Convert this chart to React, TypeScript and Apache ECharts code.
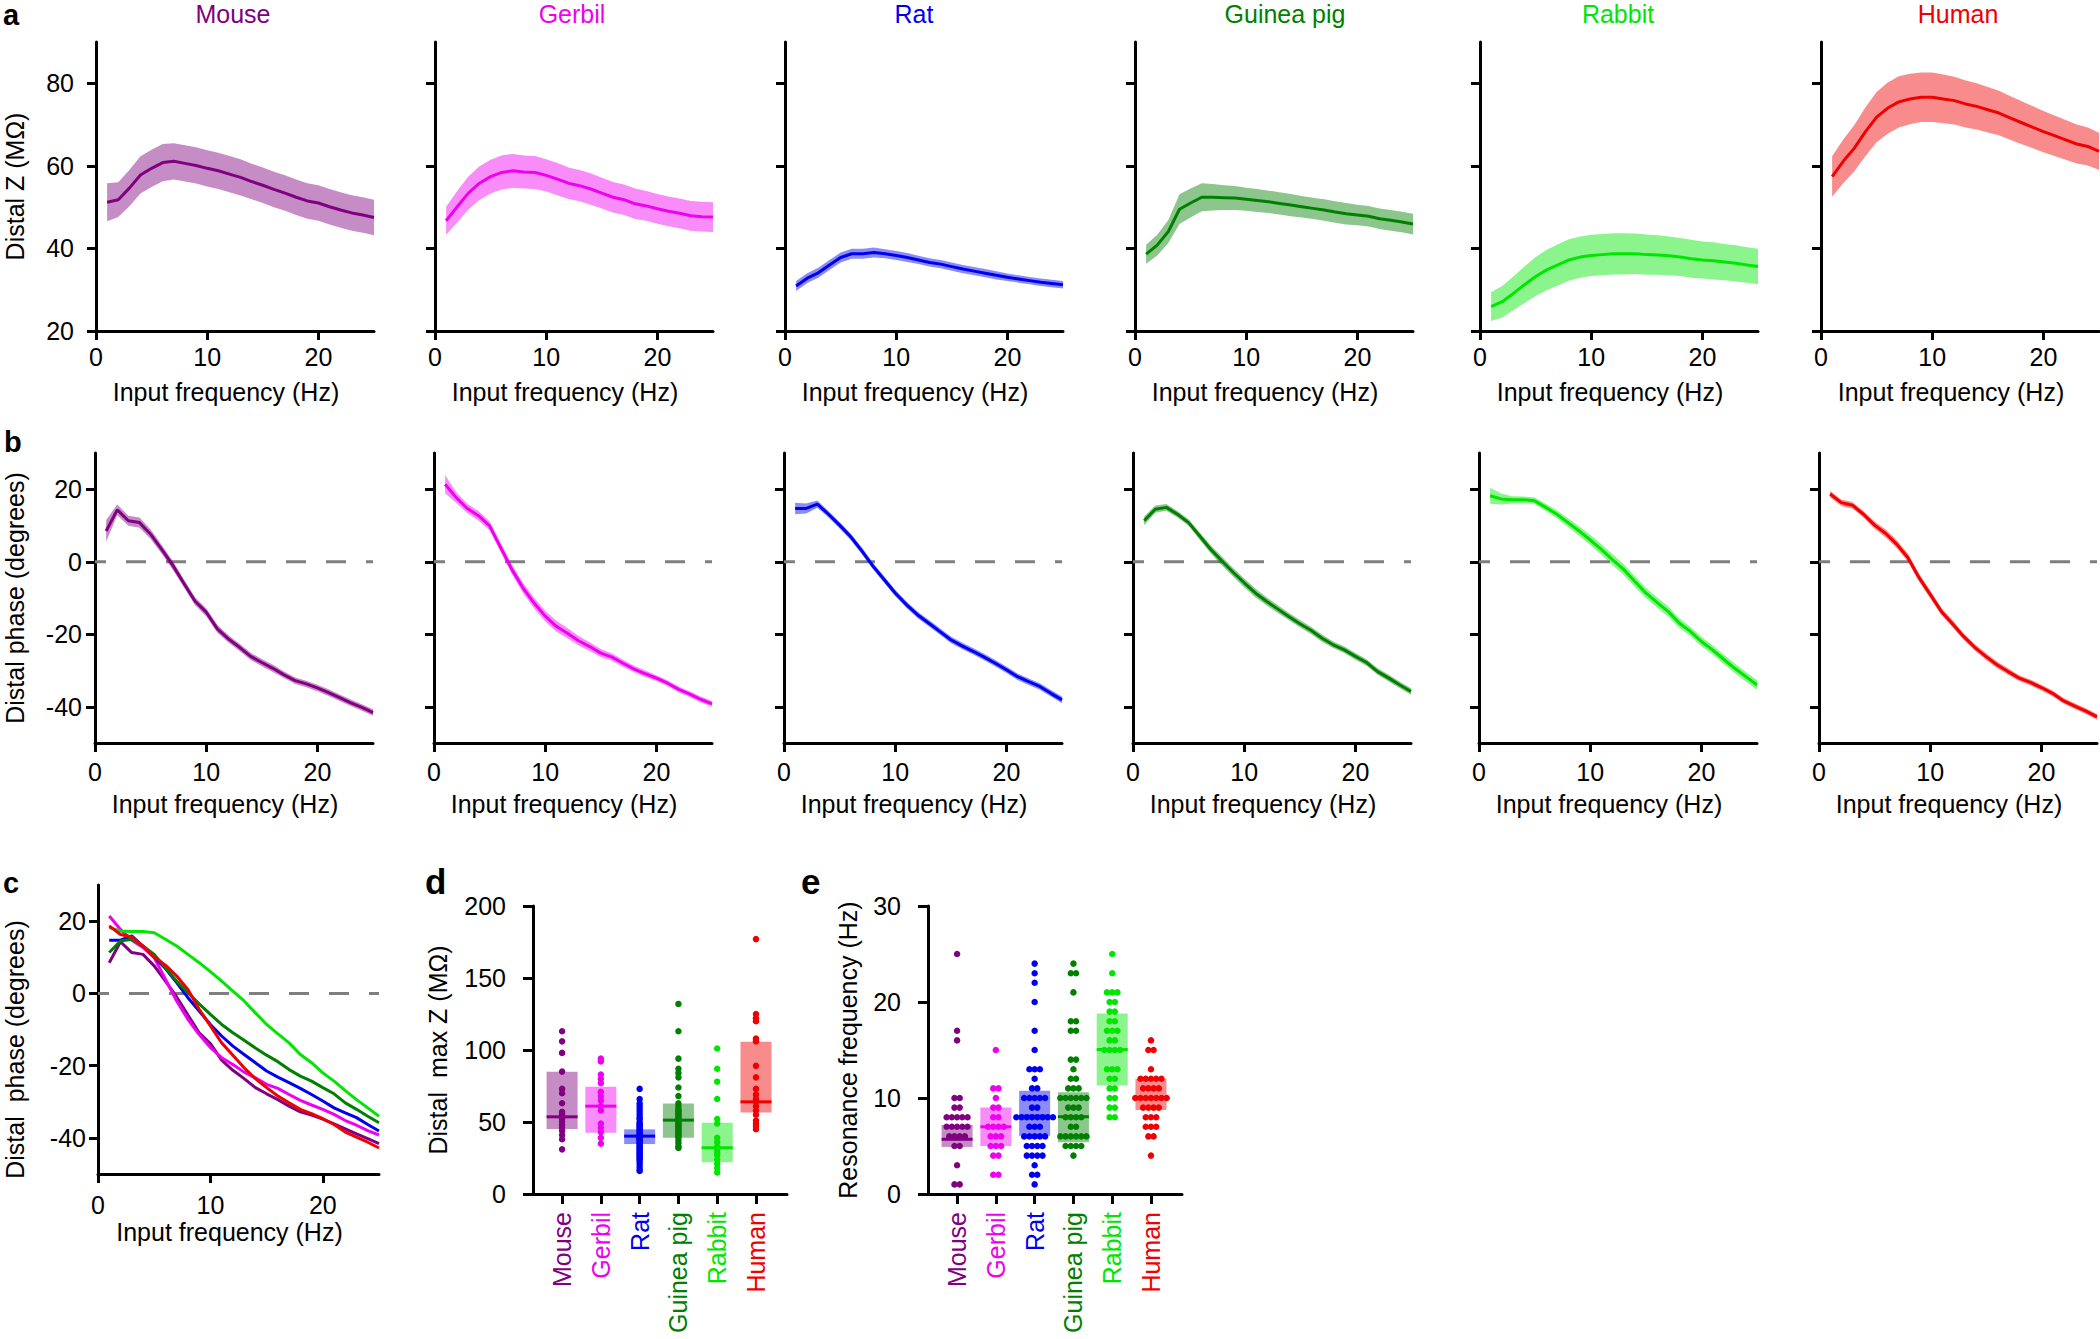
import React, { useEffect, useRef } from 'react';
import * as echarts from 'echarts';

// ---------------- data ----------------
const species = ['Mouse', 'Gerbil', 'Rat', 'Guinea pig', 'Rabbit', 'Human'];
const freqs = [1, 2, 3, 4, 5, 6, 7, 8, 9, 10, 11, 12, 13, 14, 15, 16, 17, 18, 19, 20, 21, 22, 23, 24, 25];

const freqTicks = [0, 10, 20];
const zTicks = [20, 40, 60, 80];
const phaseTicks = [-40, -20, 0, 20];
const maxZTicks = [0, 50, 100, 150, 200];
const resTicks = [0, 10, 20, 30];
const catTicks = [0, 1, 2, 3, 4, 5];

// distal impedance (MOhm), mean and error
const zMouse = [51.2, 51.8, 54.6, 57.8, 59.4, 60.8, 61.1, 60.6, 60.1, 59.4, 58.8, 58.0, 57.2, 56.2, 55.3, 54.3, 53.4, 52.4, 51.5, 51.0, 50.1, 49.3, 48.6, 48.1, 47.5];
const zMouseErr = [4.6, 4.2, 4.4, 4.5, 4.5, 4.5, 4.4, 4.4, 4.4, 4.4, 4.4, 4.4, 4.4, 4.3, 4.3, 4.3, 4.3, 4.3, 4.3, 4.3, 4.3, 4.3, 4.3, 4.3, 4.3];
const zGerbil = [46.7, 50.1, 53.4, 55.8, 57.4, 58.4, 58.8, 58.5, 58.4, 57.7, 56.8, 55.8, 55.2, 54.4, 53.4, 52.4, 51.8, 50.8, 50.3, 49.6, 49.0, 48.5, 47.9, 47.7, 47.6];
const zGerbilErr = [3.4, 3.8, 4.0, 4.1, 4.1, 4.1, 4.1, 4.0, 4.0, 3.9, 3.9, 3.8, 3.8, 3.8, 3.7, 3.7, 3.7, 3.7, 3.6, 3.6, 3.6, 3.6, 3.6, 3.6, 3.6];
const zRat = [30.9, 32.8, 34.1, 36.0, 37.8, 38.7, 38.7, 39.0, 38.7, 38.3, 37.8, 37.2, 36.6, 36.2, 35.6, 35.0, 34.5, 34.0, 33.5, 33.0, 32.6, 32.2, 31.8, 31.5, 31.2];
const zRatErr = [1.2, 1.2, 1.2, 1.2, 1.2, 1.2, 1.2, 1.2, 1.1, 1.1, 1.1, 1.0, 1.0, 1.0, 1.0, 1.0, 1.0, 1.0, 1.0, 0.9, 0.9, 0.9, 0.9, 0.9, 0.9];
const zGuinea = [38.6, 40.8, 44.1, 49.5, 51.0, 52.4, 52.4, 52.3, 52.2, 51.9, 51.6, 51.3, 50.9, 50.5, 50.1, 49.7, 49.3, 48.8, 48.4, 48.1, 47.8, 47.2, 46.8, 46.4, 45.9];
const zGuineaErr = [2.3, 2.5, 2.8, 3.6, 3.5, 3.4, 3.2, 3.0, 2.9, 2.8, 2.8, 2.7, 2.7, 2.7, 2.6, 2.6, 2.6, 2.6, 2.6, 2.5, 2.5, 2.5, 2.5, 2.5, 2.5];
const zRabbit = [25.9, 27.1, 29.1, 31.2, 33.2, 34.8, 36.0, 37.2, 37.9, 38.3, 38.5, 38.7, 38.7, 38.7, 38.5, 38.4, 38.2, 37.9, 37.5, 37.2, 37.0, 36.7, 36.4, 36.0, 35.6];
const zRabbitErr = [3.5, 3.8, 4.1, 4.4, 4.7, 4.9, 5.0, 5.0, 5.0, 5.0, 5.0, 5.0, 5.0, 4.9, 4.9, 4.8, 4.7, 4.6, 4.6, 4.5, 4.5, 4.4, 4.4, 4.3, 4.3];
const zHuman = [57.4, 61.1, 64.3, 68.3, 71.8, 74.0, 75.5, 76.2, 76.6, 76.6, 76.2, 75.8, 75.0, 74.4, 73.6, 72.8, 71.6, 70.5, 69.4, 68.3, 67.3, 66.3, 65.3, 64.7, 63.5];
const zHumanErr = [4.9, 5.3, 5.6, 5.9, 6.1, 6.2, 6.2, 6.1, 6.0, 6.0, 5.9, 5.8, 5.7, 5.6, 5.5, 5.4, 5.3, 5.2, 5.1, 5.0, 4.9, 4.8, 4.7, 4.6, 4.5];

// distal phase (degrees), mean and error
const phMouse = [8.5, 14.3, 11.3, 10.8, 7.6, 3.4, -1.0, -6.0, -10.9, -13.9, -18.5, -21.3, -23.6, -26.1, -27.8, -29.4, -31.2, -32.8, -33.7, -34.8, -36.1, -37.5, -38.9, -40.2, -41.6];
const phMouseErr = [3.0, 1.5, 1.4, 1.4, 1.3, 1.2, 1.2, 1.1, 1.1, 1.1, 1.1, 1.0, 1.0, 1.0, 1.0, 1.0, 0.9, 0.9, 0.9, 0.9, 0.9, 0.9, 0.9, 0.9, 0.9];
const phGerbil = [21.4, 17.7, 14.7, 12.7, 9.9, 3.9, -2.1, -7.2, -11.4, -15.0, -17.8, -19.7, -21.8, -23.4, -25.2, -26.3, -28.0, -29.6, -30.9, -32.1, -33.5, -35.2, -36.5, -38.0, -39.2];
const phGerbilErr = [2.5, 1.5, 1.3, 1.3, 1.3, 1.3, 1.3, 1.4, 1.5, 1.5, 1.5, 1.4, 1.3, 1.2, 1.1, 1.0, 1.0, 0.9, 0.9, 0.8, 0.8, 0.8, 0.8, 0.8, 0.8];
const phRat = [14.7, 14.7, 15.9, 13.1, 10.1, 6.9, 3.0, -1.2, -4.9, -8.6, -11.8, -14.6, -16.9, -19.2, -21.5, -23.2, -24.7, -26.3, -28.0, -29.8, -31.7, -33.1, -34.4, -36.3, -38.1];
const phRatErr = [1.6, 1.4, 1.0, 0.9, 0.9, 0.9, 0.9, 0.9, 0.9, 0.9, 0.9, 0.9, 0.9, 0.9, 0.9, 0.9, 0.9, 0.9, 0.9, 0.9, 0.9, 0.9, 0.9, 0.9, 0.9];
const phGuinea = [11.3, 14.5, 15.0, 13.1, 10.8, 7.1, 3.4, 0.2, -2.9, -5.8, -8.6, -10.9, -13.0, -15.1, -17.1, -18.9, -21.1, -22.9, -24.3, -26.1, -27.8, -30.3, -32.1, -34.0, -35.8];
const phGuineaErr = [1.2, 1.0, 0.9, 0.9, 0.9, 1.0, 1.1, 1.2, 1.2, 1.2, 1.2, 1.1, 1.1, 1.0, 1.0, 1.0, 1.0, 0.9, 0.9, 0.9, 0.9, 0.9, 0.9, 0.9, 0.9];
const phRabbit = [18.2, 17.3, 17.1, 17.1, 16.8, 15.0, 13.1, 10.8, 8.5, 6.0, 3.4, 0.6, -2.1, -5.4, -8.6, -11.2, -13.7, -16.9, -19.2, -22.0, -24.3, -26.9, -29.4, -31.7, -34.0];
const phRabbitErr = [2.2, 1.5, 1.0, 0.9, 0.9, 1.0, 1.1, 1.2, 1.3, 1.4, 1.5, 1.5, 1.5, 1.5, 1.4, 1.4, 1.4, 1.3, 1.3, 1.3, 1.3, 1.3, 1.3, 1.3, 1.3];
const phHuman = [18.7, 16.3, 15.6, 13.1, 10.1, 7.8, 4.8, 1.1, -4.4, -9.0, -13.7, -17.1, -20.6, -23.6, -26.1, -28.4, -30.3, -32.1, -33.3, -34.7, -36.3, -38.4, -39.8, -41.2, -42.8];
const phHumanErr = [0.9, 0.9, 0.9, 0.9, 1.0, 1.1, 1.1, 1.1, 1.1, 1.1, 1.0, 1.0, 0.9, 0.9, 0.9, 0.9, 0.9, 0.8, 0.8, 0.8, 0.8, 0.8, 0.8, 0.8, 0.8];

// distal max Z per cell (MOhm)
const maxZMouse = [113, 106, 98, 85, 73, 70, 63, 57, 55, 53, 52, 50, 48, 46, 44, 41, 38, 31];
const maxZGerbil = [94, 92, 83, 80, 77, 71, 68, 65, 61, 58, 49, 46, 43, 39, 35];
const maxZRat = [73, 66, 63, 61, 59, 57, 55, 53, 52, 50, 49, 48, 47, 46, 45, 44, 43, 42, 41, 41, 40, 40, 39, 39, 38, 38, 37, 36, 35, 34, 33, 32, 31, 30, 29, 28, 27, 26, 25, 24, 23, 21, 19, 17, 16];
const maxZGuinea = [132, 113, 94, 87, 84, 81, 74, 68, 63, 61, 59, 58, 57, 56, 55, 54, 53, 52, 51, 50, 49, 48, 47, 46, 45, 44, 43, 42, 41, 40, 39, 37, 35, 33, 32];
const maxZRabbit = [101, 87, 78, 66, 52, 49, 39, 36, 33, 31, 29, 27, 24, 21, 18, 15];
const maxZHuman = [177, 125, 122, 120, 108, 106, 89, 81, 73, 69, 66, 64, 61, 58, 55, 51, 49, 47, 45];
// boxes: [low, high, median]
const maxZBoxes = [[45.1, 84.9, 53.6], [42.5, 74.5, 61.0], [34.7, 44.9, 40.2], [39.1, 62.9, 51.3], [22.0, 49.5, 32.1], [56.6, 105.7, 64.0]];

// resonance frequency per cell (Hz)
const resMouse = [25, 17, 16, 10, 10, 9, 9, 8, 8, 8, 8, 8, 7, 7, 7, 7, 7, 6, 6, 6, 6, 5, 5, 3, 1, 1];
const resGerbil = [15, 11, 11, 10, 9, 9, 8, 8, 7, 7, 7, 7, 6, 6, 6, 5, 5, 5, 4, 4, 2, 2];
const resRat = [24, 23, 22, 20, 17, 15, 13, 13, 13, 12, 11, 11, 10, 10, 10, 10, 10, 9, 9, 8, 8, 8, 8, 8, 8, 8, 8, 7, 7, 7, 6, 6, 6, 6, 6, 5, 5, 5, 5, 4, 4, 4, 4, 3, 2, 2, 1];
const resGuinea = [24, 23, 23, 21, 18, 18, 17, 17, 14, 14, 13, 12, 12, 11, 11, 11, 10, 10, 10, 10, 10, 10, 9, 9, 9, 8, 8, 8, 8, 7, 7, 6, 6, 6, 6, 6, 6, 5, 5, 5, 5, 4];
const resRabbit = [25, 23, 21, 21, 21, 20, 20, 19, 19, 18, 18, 17, 17, 17, 16, 16, 15, 15, 15, 15, 13, 13, 13, 12, 12, 11, 11, 10, 10, 9, 9, 8, 8];
const resHuman = [16, 15, 15, 13, 12, 12, 12, 12, 12, 11, 11, 11, 11, 10, 10, 10, 10, 10, 10, 10, 9, 9, 9, 9, 8, 8, 8, 7, 7, 7, 6, 6, 4];
const resBoxes = [[4.9, 7.2, 5.7], [5.0, 9.0, 7.0], [6.07, 10.75, 8.1], [5.4, 10.6, 8.05], [11.3, 18.8, 15.05], [8.75, 12.0, 10.0]];

const zMeans = [zMouse, zGerbil, zRat, zGuinea, zRabbit, zHuman];
const zErrs = [zMouseErr, zGerbilErr, zRatErr, zGuineaErr, zRabbitErr, zHumanErr];
const phMeans = [phMouse, phGerbil, phRat, phGuinea, phRabbit, phHuman];
const phErrs = [phMouseErr, phGerbilErr, phRatErr, phGuineaErr, phRabbitErr, phHumanErr];
const maxZValues = [maxZMouse, maxZGerbil, maxZRat, maxZGuinea, maxZRabbit, maxZHuman];
const resValues = [resMouse, resGerbil, resRat, resGuinea, resRabbit, resHuman];

// ---------------- styles / layout ----------------
const colors = ['#800080', '#f000f0', '#0000f0', '#008000', '#00e600', '#f00000'];
const FONT = "'Liberation Sans', Arial, Helvetica, sans-serif";
const FS = 25;
const rowALeft = [96, 435, 785, 1135, 1480, 1821];
const rowBLeft = [95, 434, 784, 1133, 1479, 1819];
const titleX = [233, 572, 914, 1285, 1618, 1958];

function withAlpha(hex: string, a: number) {
  const r = parseInt(hex.slice(1, 3), 16);
  const g = parseInt(hex.slice(3, 5), 16);
  const b = parseInt(hex.slice(5, 7), 16);
  return `rgba(${r},${g},${b},${a})`;
}
const fills = colors.map((c) => withAlpha(c, 0.45));

function swarm(values: number[], idx: number, step: number) {
  const counts = new Map<number, number>();
  values.forEach((v) => counts.set(v, (counts.get(v) || 0) + 1));
  const seen = new Map<number, number>();
  return values.map((v) => {
    const n = counts.get(v) || 1;
    const k = seen.get(v) || 0;
    seen.set(v, k + 1);
    return [idx + (k - (n - 1) / 2) * step, v];
  });
}

function buildOption() {
  const grid: any[] = [];
  const xAxis: any[] = [];
  const yAxis: any[] = [];
  const series: any[] = [];

  const axisLine = { show: true, onZero: false, lineStyle: { color: '#000', width: 3 } };
  const tick = (vals: number[], len = 9) => ({ show: true, length: len, customValues: vals, lineStyle: { color: '#000', width: 3 } });
  const label = (vals: number[], show: boolean, margin: number) => ({
    show, customValues: vals, margin, fontSize: FS, fontFamily: FONT, color: '#000',
  });
  const nameStyle = (pad: any = 0) => ({ fontSize: FS, fontFamily: FONT, color: '#000', padding: pad });

  const add = (g: any, xa: any, ya: any) => {
    const i = grid.length;
    grid.push({ ...g, containLabel: false, outerBoundsMode: 'none' });
    xAxis.push({ ...xa, gridIndex: i });
    yAxis.push({ ...ya, gridIndex: i });
    return i;
  };

  const freqAxis = (margin: number, gap: number, max = 25) => ({
    type: 'value', min: 0, max,
    axisLine, axisTick: tick(freqTicks),
    axisLabel: { ...label(freqTicks, true, margin), alignMinLabel: 'center', alignMaxLabel: 'center' },
    splitLine: { show: false },
    name: 'Input frequency (Hz)', nameLocation: 'middle', nameGap: gap, nameTextStyle: nameStyle([0, 18, 0, 0]),
  });

  const band = (gi: number, mean: number[], err: number[], fill: string) => ({
    type: 'custom', xAxisIndex: gi, yAxisIndex: gi, z: 2, silent: true,
    data: freqs.map((f, k) => [f, mean[k] - err[k], mean[k] + err[k]]),
    encode: { x: 0, y: [1, 2] },
    renderItem: (params: any, api: any) => {
      if (params.dataIndex !== 0) return { type: 'group', children: [] };
      const upper = freqs.map((f, k) => api.coord([f, mean[k] + err[k]]));
      const lower = freqs.map((f, k) => api.coord([f, mean[k] - err[k]])).reverse();
      return { type: 'polygon', shape: { points: upper.concat(lower) }, style: { fill } };
    },
  });
  const meanLine = (gi: number, mean: number[], color: string) => ({
    type: 'line', xAxisIndex: gi, yAxisIndex: gi, z: 3, silent: true,
    data: freqs.map((f, k) => [f, mean[k]]),
    symbol: 'none', showSymbol: false,
    lineStyle: { color, width: 3 }, itemStyle: { color },
  });
  const zeroLine = (gi: number) => ({
    type: 'line', xAxisIndex: gi, yAxisIndex: gi, z: 1, silent: true,
    data: [[0, 0], [25, 0]], symbol: 'none',
    lineStyle: { color: '#7f7f7f', width: 3, type: [20, 20], dashOffset: 9 },
  });

  // row a: impedance
  for (let i = 0; i < 6; i++) {
    const gi = add(
      { left: rowALeft[i], top: 42, width: 278, height: 289 },
      freqAxis(13, 48),
      {
        type: 'value', min: 20, max: 90, axisLine, axisTick: tick(zTicks), axisLabel: label(zTicks, i === 0, 22),
        splitLine: { show: false }, name: i === 0 ? 'Distal Z (MΩ)' : '', nameLocation: 'middle', nameGap: 69, nameTextStyle: nameStyle(),
      }
    );
    series.push(band(gi, zMeans[i], zErrs[i], fills[i]));
    series.push(meanLine(gi, zMeans[i], colors[i]));
  }

  // row b: phase
  for (let i = 0; i < 6; i++) {
    const gi = add(
      { left: rowBLeft[i], top: 453, width: 278, height: 290 },
      freqAxis(16, 48),
      {
        type: 'value', min: -50, max: 30, axisLine, axisTick: tick(phaseTicks), axisLabel: label(phaseTicks, i === 0, 13),
        splitLine: { show: false }, name: i === 0 ? 'Distal phase (degrees)' : '', nameLocation: 'middle', nameGap: 68, nameTextStyle: nameStyle(),
      }
    );
    series.push(zeroLine(gi));
    series.push(band(gi, phMeans[i], phErrs[i], fills[i]));
    series.push(meanLine(gi, phMeans[i], colors[i]));
  }

  // panel c: overlay of phase
  {
    const gi = add(
      { left: 98, top: 885, width: 281, height: 289 },
      freqAxis(18, 45),
      {
        type: 'value', min: -50, max: 30, axisLine, axisTick: tick(phaseTicks), axisLabel: label(phaseTicks, true, 12),
        splitLine: { show: false }, name: 'Distal  phase (degrees)', nameLocation: 'middle', nameGap: 71, nameTextStyle: nameStyle([0, 40, 0, 0]),
      }
    );
    series.push(zeroLine(gi));
    for (let i = 0; i < 6; i++) series.push(meanLine(gi, phMeans[i], colors[i]));
  }

  // panels d and e: per-cell scatter
  const catAxis = {
    type: 'value', min: -0.75, max: 5.8, axisLine, axisTick: tick(catTicks, 10),
    axisLabel: {
      show: true, customValues: catTicks, margin: 18, rotate: 90, fontSize: FS, fontFamily: FONT,
      formatter: (v: number) => species[Math.round(v)] || '',
      color: (v: any) => colors[Math.round(Number(v))] || '#000',
    },
    splitLine: { show: false },
  };
  const scatterPanel = (left: number, yMax: number, ticks: number[], name: string, gap: number, values: number[][], boxes: number[][], step: number) => {
    const gi = add(
      { left, top: 906, width: 254, height: 288 },
      catAxis,
      {
        type: 'value', min: 0, max: yMax, axisLine, axisTick: tick(ticks, 10), axisLabel: label(ticks, true, 27),
        splitLine: { show: false }, name, nameLocation: 'middle', nameGap: gap, nameTextStyle: nameStyle(),
      }
    );
    series.push({
      type: 'custom', xAxisIndex: gi, yAxisIndex: gi, z: 2, silent: true,
      data: boxes.map((b, k) => [k, b[0], b[1], b[2]]),
      encode: { x: 0, y: [1, 2] },
      renderItem: (params: any, api: any) => {
        const k = api.value(0);
        const p1 = api.coord([k - 0.4, api.value(2)]);
        const p2 = api.coord([k + 0.4, api.value(1)]);
        return { type: 'rect', shape: { x: p1[0], y: p1[1], width: p2[0] - p1[0], height: p2[1] - p1[1] }, style: { fill: fills[k] } };
      },
    });
    values.forEach((vals, k) => {
      series.push({
        type: 'scatter', xAxisIndex: gi, yAxisIndex: gi, z: 3, silent: true,
        data: swarm(vals, k, step), symbol: 'circle', symbolSize: 6.5,
        itemStyle: { color: colors[k], opacity: 1 },
      });
    });
    series.push({
      type: 'custom', xAxisIndex: gi, yAxisIndex: gi, z: 4, silent: true,
      data: boxes.map((b, k) => [k, b[2]]),
      encode: { x: 0, y: 1 },
      renderItem: (params: any, api: any) => {
        const k = api.value(0);
        const p1 = api.coord([k - 0.4, api.value(1)]);
        const p2 = api.coord([k + 0.4, api.value(1)]);
        return { type: 'line', shape: { x1: p1[0], y1: p1[1], x2: p2[0], y2: p2[1] }, style: { stroke: colors[k], lineWidth: 3 } };
      },
    });
  };
  scatterPanel(533, 200, maxZTicks, 'Distal  max Z (MΩ)', 83, maxZValues, maxZBoxes, 0);
  scatterPanel(928, 30, resTicks, 'Resonance frequency (Hz)', 68, resValues, resBoxes, 0.135);

  const txt = (text: string, x: number, y: number, font: string, fill: string, align = 'left') => ({
    type: 'text', x, y, silent: true,
    style: { text, font, fill, align, textAlign: align, verticalAlign: 'middle', textVerticalAlign: 'middle' },
  });
  const graphic: any[] = [];
  species.forEach((s, i) => graphic.push(txt(s, titleX[i], 14, `${FS}px ${FONT}`, colors[i], 'center')));
  graphic.push(txt('a', 3, 14.5, `bold 29px ${FONT}`, '#000'));
  graphic.push(txt('b', 4, 441.5, `bold 29px ${FONT}`, '#000'));
  graphic.push(txt('c', 3, 883, `bold 29px ${FONT}`, '#000'));
  graphic.push(txt('d', 425, 881.7, `bold 35px ${FONT}`, '#000'));
  graphic.push(txt('e', 801, 881.7, `bold 35px ${FONT}`, '#000'));

  return {
    animation: false,
    backgroundColor: '#ffffff',
    textStyle: { fontFamily: FONT },
    grid, xAxis, yAxis, series, graphic,
  };
}

export default function App() {
  const ref = useRef<HTMLDivElement>(null);
  useEffect(() => {
    if (!ref.current) return;
    const chart = echarts.init(ref.current, undefined, { renderer: 'svg' });
    chart.setOption(buildOption() as any);
    return () => chart.dispose();
  }, []);
  return <div ref={ref} style={{ position: 'absolute', left: 0, top: 0, width: 2100, height: 1339 }} />;
}
